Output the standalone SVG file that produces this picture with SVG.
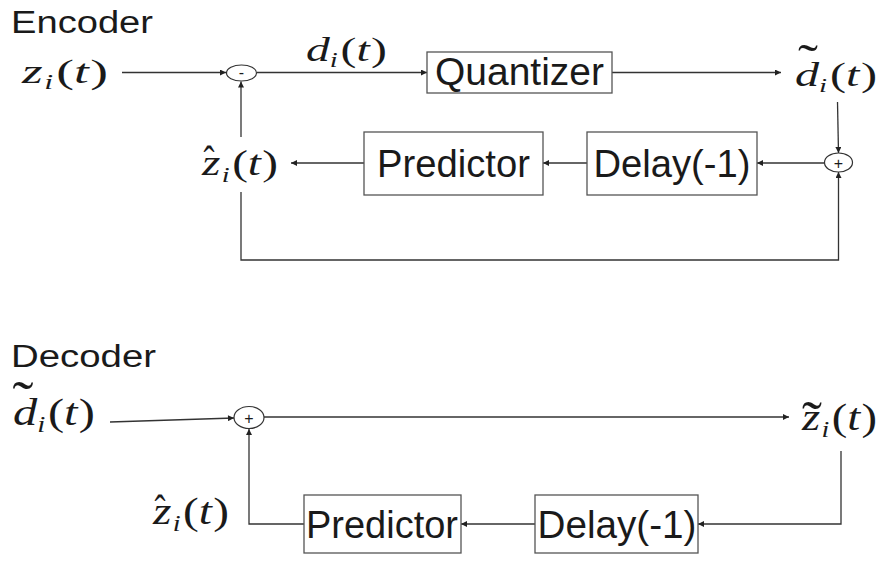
<svg xmlns="http://www.w3.org/2000/svg" width="882" height="561" viewBox="0 0 882 561">
<style>
.bg{fill:#ffffff}
.box{fill:#ffffff;stroke:#555555;stroke-width:1.3}
.sum{fill:#ffffff;stroke:#333333;stroke-width:1.2}
.ln{fill:none;stroke:#333333;stroke-width:1.3}
.lab{font-family:"Liberation Sans",Arial,sans-serif;fill:#1a1a1a}
.blk{font-family:"Liberation Sans",Arial,sans-serif;font-size:38px;fill:#1a1a1a;text-anchor:middle}
.m{font-family:"Liberation Serif","Times New Roman",serif;fill:#1a1a1a}
.it{font-style:italic}
.sub{font-style:italic;font-size:0.6em}
.acc{font-family:"Liberation Serif","Times New Roman",serif;fill:#1a1a1a;text-anchor:middle}
.op{font-family:"Liberation Sans",Arial,sans-serif;font-size:16px;fill:#1a1a1a;text-anchor:middle}
</style>
<defs>
<marker id="ah" viewBox="0 0 10 10" refX="10" refY="5" markerWidth="8" markerHeight="6" markerUnits="userSpaceOnUse" orient="auto">
<path d="M0,0 L10,5 L0,10 z" fill="#222222"/>
</marker>
</defs>
<rect class="bg" x="0" y="0" width="882" height="561"/>

<g id="connectors">
<line class="ln" x1="122" y1="72.5" x2="226" y2="72.5" marker-end="url(#ah)"/>
<line class="ln" x1="257" y1="72.5" x2="427" y2="72.5" marker-end="url(#ah)"/>
<line class="ln" x1="612" y1="72.5" x2="781" y2="72.5" marker-end="url(#ah)"/>
<line class="ln" x1="837.5" y1="102" x2="838.5" y2="153" marker-end="url(#ah)"/>
<line class="ln" x1="824" y1="163" x2="757" y2="163" marker-end="url(#ah)"/>
<line class="ln" x1="587" y1="163" x2="543" y2="163" marker-end="url(#ah)"/>
<line class="ln" x1="364" y1="163" x2="291" y2="163" marker-end="url(#ah)"/>
<line class="ln" x1="241" y1="137" x2="241" y2="81.5" marker-end="url(#ah)"/>
<polyline class="ln" points="241,192 241,260 838.5,260 838.5,172" marker-end="url(#ah)"/>

<line class="ln" x1="110" y1="422" x2="234" y2="418" marker-end="url(#ah)"/>
<line class="ln" x1="264" y1="417" x2="789" y2="417" marker-end="url(#ah)"/>
<polyline class="ln" points="841,451 841,524 698,524" marker-end="url(#ah)"/>
<line class="ln" x1="535" y1="524" x2="461" y2="524" marker-end="url(#ah)"/>
<polyline class="ln" points="304,524 249,524 249,429" marker-end="url(#ah)"/>
</g>

<g id="enc-title"><text class="lab" x="11" y="33" font-size="31" textLength="142" lengthAdjust="spacingAndGlyphs">Encoder</text></g>

<g id="enc-z">
<text class="m" x="22" y="83" font-size="34" textLength="86" lengthAdjust="spacingAndGlyphs"><tspan class="it">z</tspan><tspan class="sub" dx="1" dy="6">i</tspan><tspan dx="2" dy="-6">(</tspan><tspan class="it">t</tspan><tspan dx="1">)</tspan></text>
</g>

<g id="enc-minus">
<ellipse class="sum" cx="241.5" cy="73" rx="15" ry="8"/>
<text class="op" x="241.5" y="78">-</text>
</g>

<g id="enc-d">
<text class="m" x="306" y="61" font-size="34" textLength="81" lengthAdjust="spacingAndGlyphs"><tspan class="it">d</tspan><tspan class="sub" dy="6">i</tspan><tspan dx="2" dy="-6">(</tspan><tspan class="it">t</tspan><tspan dx="1">)</tspan></text>
</g>

<g id="quantizer">
<rect class="box" x="427" y="52" width="185" height="41"/>
<text class="blk" x="519.5" y="85" font-size="39" textLength="169" lengthAdjust="spacingAndGlyphs">Quantizer</text>
</g>

<g id="enc-dtilde">
<text class="acc" x="808" y="79" font-size="50" textLength="20" lengthAdjust="spacingAndGlyphs">˜</text>
<text class="m" x="795" y="86" font-size="33" textLength="82" lengthAdjust="spacingAndGlyphs"><tspan class="it">d</tspan><tspan class="sub" dy="6">i</tspan><tspan dx="2" dy="-6">(</tspan><tspan class="it">t</tspan><tspan dx="1">)</tspan></text>
</g>

<g id="enc-plus">
<ellipse class="sum" cx="838.5" cy="162.5" rx="14" ry="9.5"/>
<text class="op" x="838.5" y="168.5">+</text>
</g>

<g id="enc-delay">
<rect class="box" x="587" y="132" width="170" height="63"/>
<text class="blk" x="672" y="177" textLength="157" lengthAdjust="spacingAndGlyphs">Delay(-1)</text>
</g>

<g id="enc-predictor">
<rect class="box" x="364" y="132" width="179" height="63"/>
<text class="blk" x="453.5" y="177" textLength="153" lengthAdjust="spacingAndGlyphs">Predictor</text>
</g>

<g id="enc-zhat">
<text class="acc" x="209" y="175" font-size="42" textLength="11" lengthAdjust="spacingAndGlyphs">ˆ</text>
<text class="m" x="202" y="175" font-size="36" textLength="76" lengthAdjust="spacingAndGlyphs"><tspan class="it">z</tspan><tspan class="sub" dx="1" dy="7">i</tspan><tspan dx="2" dy="-7">(</tspan><tspan class="it">t</tspan><tspan dx="1">)</tspan></text>
</g>

<g id="dec-title"><text class="lab" x="11" y="367" font-size="31" textLength="145" lengthAdjust="spacingAndGlyphs">Decoder</text></g>

<g id="dec-dtilde">
<text class="acc" x="23" y="419" font-size="54" textLength="21" lengthAdjust="spacingAndGlyphs">˜</text>
<text class="m" x="13" y="425" font-size="37" textLength="82" lengthAdjust="spacingAndGlyphs"><tspan class="it">d</tspan><tspan class="sub" dy="7">i</tspan><tspan dx="2" dy="-7">(</tspan><tspan class="it">t</tspan><tspan dx="1">)</tspan></text>
</g>

<g id="dec-plus">
<ellipse class="sum" cx="249" cy="417.5" rx="15" ry="11"/>
<text class="op" x="249" y="423.5">+</text>
</g>

<g id="dec-ztilde">
<text class="acc" x="812" y="439" font-size="54" textLength="20" lengthAdjust="spacingAndGlyphs">˜</text>
<text class="m" x="802" y="430" font-size="37" textLength="75" lengthAdjust="spacingAndGlyphs"><tspan class="it">z</tspan><tspan class="sub" dx="1" dy="7">i</tspan><tspan dx="2" dy="-7">(</tspan><tspan class="it">t</tspan><tspan dx="1">)</tspan></text>
</g>

<g id="dec-delay">
<rect class="box" x="535" y="495" width="163" height="58"/>
<text class="blk" x="617" y="538" font-size="37" textLength="159" lengthAdjust="spacingAndGlyphs">Delay(-1)</text>
</g>

<g id="dec-predictor">
<rect class="box" x="304" y="495" width="157" height="58"/>
<text class="blk" x="382" y="538" font-size="37" textLength="152" lengthAdjust="spacingAndGlyphs">Predictor</text>
</g>

<g id="dec-zhat">
<text class="acc" x="160" y="524" font-size="42" textLength="11" lengthAdjust="spacingAndGlyphs">ˆ</text>
<text class="m" x="153" y="524" font-size="37" textLength="76" lengthAdjust="spacingAndGlyphs"><tspan class="it">z</tspan><tspan class="sub" dx="1" dy="7">i</tspan><tspan dx="2" dy="-7">(</tspan><tspan class="it">t</tspan><tspan dx="1">)</tspan></text>
</g>
</svg>
